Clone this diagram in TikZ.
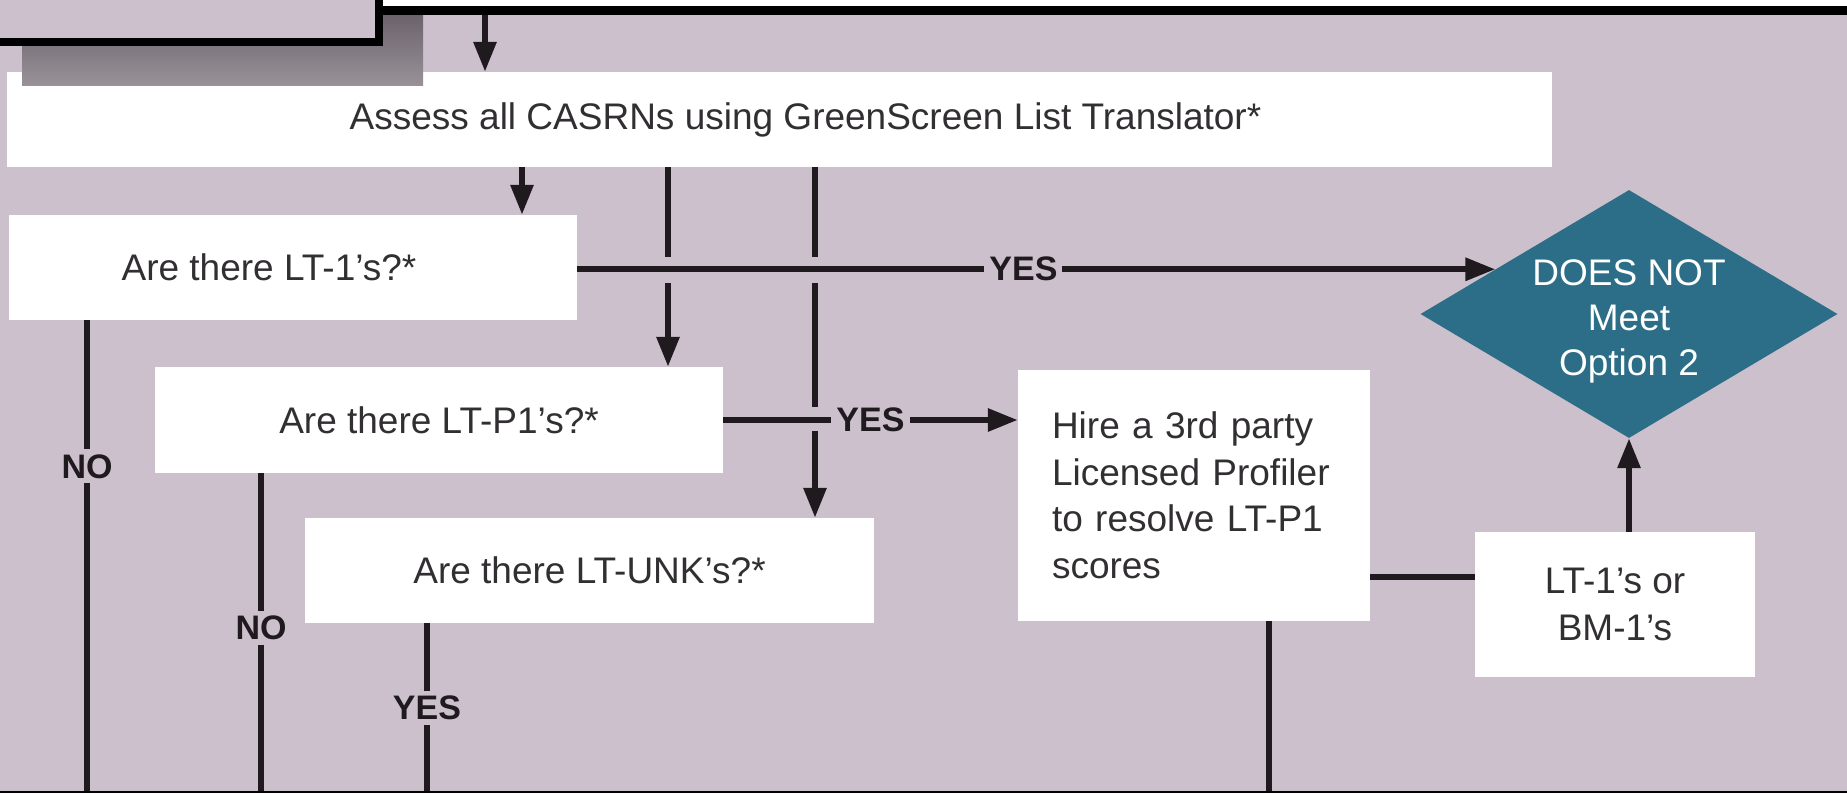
\documentclass[tikz,border=0pt]{standalone}
\usepackage{fontspec}
\setmainfont{Liberation Sans}
\usetikzlibrary{arrows.meta,calc,shapes.geometric}
\definecolor{bg}{RGB}{204,192,205}
\definecolor{dteal}{RGB}{44,110,135}
\definecolor{ink}{RGB}{30,26,30}
\definecolor{txt}{RGB}{50,47,50}
\definecolor{shadtop}{RGB}{108,98,108}
\definecolor{shadbot}{RGB}{152,146,152}
\tikzset{
  box/.style={fill=white, draw=none, inner sep=0pt, text=txt, font=\fontsize{37}{45}\selectfont},
  conn/.style={draw=ink, line width=6pt},
  arr/.style={conn, -{Triangle[width=22pt,length=30pt]}},
  lbl/.style={fill=bg, inner sep=5pt, text=ink, font=\bfseries\fontsize{34}{40}\selectfont},
}
\begin{document}
\begin{tikzpicture}[x=1pt,y=-1pt]
\useasboundingbox (0,0) rectangle (1847,793);
\fill[bg] (0,0) rectangle (1847,793);

% boxes
\node[box, minimum width=1545pt, minimum height=95pt] (assess) at (779.5,119.5)
  {\hspace*{52pt}Assess all CASRNs using GreenScreen List Translator*};
\node[box, minimum width=568pt, minimum height=105pt] (lt1) at (293,267.5)
  {\hspace*{-48pt}Are there LT-1’s?*};
\node[box, minimum width=568pt, minimum height=106pt] (ltp1) at (439,420)
  {Are there LT-P1’s?*};
\node[box, minimum width=569pt, minimum height=105pt] (ltunk) at (589.5,570.5)
  {Are there LT-UNK’s?*};
\node[box, minimum height=251pt, inner xsep=34pt, text width=284pt, align=left,
      font=\fontsize{37}{46.5}\selectfont] (hire) at (1194,495.5)
  {Hire a 3rd party\\Licensed Profiler\\to resolve LT-P1\\scores};
\node[box, minimum width=280pt, minimum height=145pt, align=center,
      font=\fontsize{37}{47}\selectfont] (lt1bm) at (1615,604.5)
  {LT-1’s or\\BM-1’s};
\node[diamond, fill=dteal, inner sep=0pt, minimum width=417pt, minimum height=248pt,
      shape aspect=1.68] (dnm) at (1629,314) {};
\node[text=white, align=center, inner sep=0pt, font=\fontsize{37}{45}\selectfont]
  (dnmtext) at ([yshift=-7pt]dnm.center) {DOES NOT\\Meet\\Option 2};

% shadow and top-left box (continuation of the chart above)
\shade[top color=shadtop, bottom color=shadbot] (22,15) rectangle (423,85);
\fill[bg] (0,0) rectangle (379,41.5);
\draw[black, line width=8pt] (379,0) -- (379,41.5) -- (0,41.5);
\fill[white] (383,0) rectangle (1847,6);
\fill[black] (375,6) rectangle (1847,15);

% connectors
\coordinate (topsrc) at (485,15);
\coordinate (a1) at (522,0);
\coordinate (a2) at (668,0);
\coordinate (a3) at (815,0);
\coordinate (bot) at (0,793);
\coordinate (n1) at (87,0);
\coordinate (n2) at (261,0);
\coordinate (n3) at (427,0);
\coordinate (n4) at (1269,0);
\coordinate (hy) at (0,577);

\draw[arr] (topsrc) -- (topsrc |- assess.north);
\draw[arr] (a1 |- assess.south) -- (a1 |- lt1.north);
\draw[arr] (a2 |- assess.south) -- (a2 |- ltp1.north);
\draw[arr] (a3 |- assess.south) -- (a3 |- ltunk.north);

% gaps where lines cross
\fill[bg] (658,257) rectangle (678,283);
\fill[bg] (805,257) rectangle (825,283);
\fill[bg] (805,407) rectangle (825,431);

\coordinate (din) at ($(dnm.west)!0.36!(dnm.north)$);
\draw[arr] (lt1.east |- din) -- (din) node[lbl, pos=0.486] {YES};
\draw[arr] (ltp1.east) -- (hire.west |- ltp1.east) node[lbl, pos=0.5] {YES};
\draw[conn] (hire.east |- hy) -- (lt1bm.west |- hy);
\draw[arr] (dnm.south |- lt1bm.north) -- (dnm.south);

\draw[conn] (n1 |- lt1.south) -- (n1 |- bot) node[lbl, pos=0.309] {NO};
\draw[conn] (n2 |- ltp1.south) -- (n2 |- bot) node[lbl, pos=0.484] {NO};
\draw[conn] (n3 |- ltunk.south) -- (n3 |- bot) node[lbl, pos=0.5] {YES};
\draw[conn] (n4 |- hire.south) -- (n4 |- bot);

\fill[black] (0,790.5) rectangle (1847,793);
\end{tikzpicture}
\end{document}
